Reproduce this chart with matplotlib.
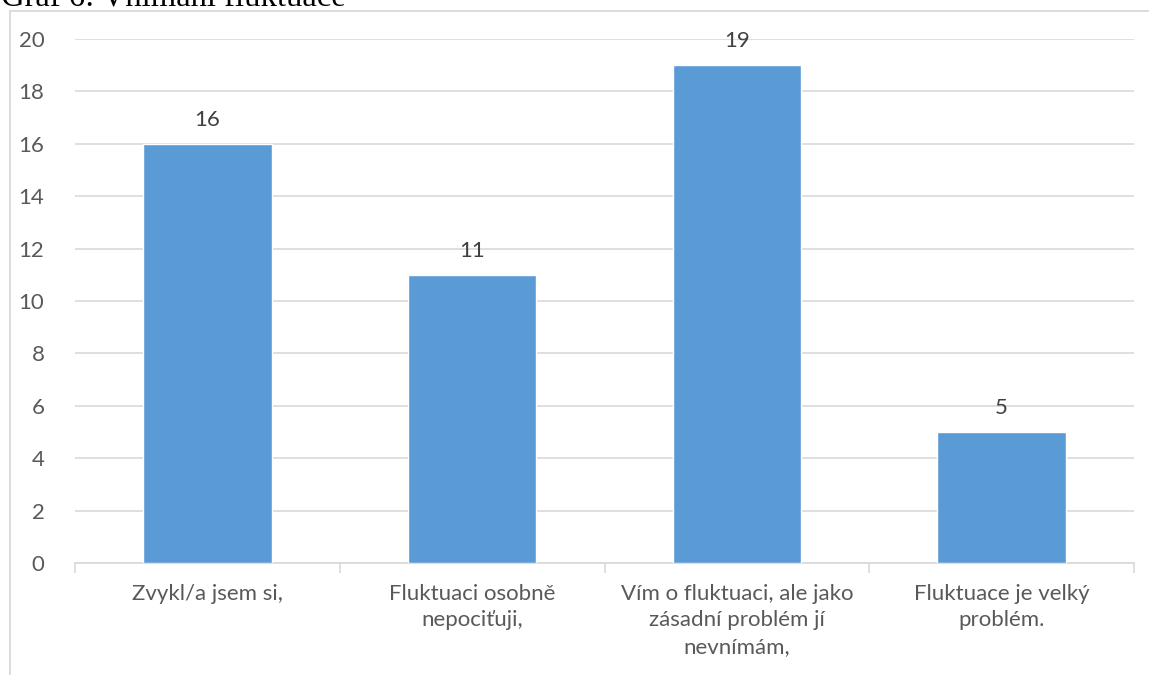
import matplotlib.pyplot as plt
from matplotlib.lines import Line2D
import numpy as np

categories = ["Zvykl/a jsem si,",
              "Fluktuaci osobně\nnepociťuji,",
              "Vím o fluktuaci, ale jako\nzásadní problém jí\nnevnímám,",
              "Fluktuace je velký\nproblém."]
values = [16, 11, 19, 5]
yticks = [0, 2, 4, 6, 8, 10, 12, 14, 16, 18, 20]

W, H = 1149, 675
fig = plt.figure(figsize=(W / 100, H / 100), dpi=100)
plt.rcParams['font.family'] = ['Lato', 'DejaVu Sans']

grid_c = "#D9D9D9"
text_c = "#595959"
fs = 16

# chart frame (top and left edge only, rest is outside the page)
fig.add_artist(Line2D([10 / W, 1.0], [1 - 11 / H, 1 - 11 / H], color=grid_c, lw=1.3))
fig.add_artist(Line2D([10 / W, 10 / W], [0, 1 - 11 / H], color=grid_c, lw=1.3))

# title, partly cut by the top of the page
fig.text(1 / W, 1 - 5 / H, "Graf 6: Vnímání fluktuace", family="Liberation Serif",
         fontsize=23.5, color="black", va="baseline", ha="left")

ax = fig.add_axes([75 / W, 1 - 563 / H, (1134 - 75) / W, (563 - 39) / H])
x = np.arange(len(values))
bars = ax.bar(x, values, width=0.485, color="#5B9BD5", edgecolor="white", linewidth=1, zorder=3)
for b, v in zip(bars, values):
    ax.annotate(str(v), (b.get_x() + b.get_width() / 2, v), xytext=(0, 10),
                textcoords="offset points", ha="center", va="bottom",
                fontsize=fs, color="#404040")

ax.set_xlim(-0.5, len(values) - 0.5)
ax.set_ylim(0, 20)
ax.set_yticks(yticks)
ax.set_yticklabels([str(t) for t in yticks])
ax.yaxis.grid(True, color=grid_c, lw=1.2)
ax.set_axisbelow(True)
ax.tick_params(axis="y", length=0, pad=22, labelsize=fs, labelcolor=text_c)

ax.set_xticks(x)
ax.set_xticklabels(categories, linespacing=1.4)
ax.tick_params(axis="x", length=0, pad=15, labelsize=fs, labelcolor=text_c)
# separators between categories
ax.set_xticks(np.arange(len(values) + 1) - 0.5, minor=True)
ax.tick_params(axis="x", which="minor", length=7, color=grid_c, width=1.2)

for s in ["top", "right", "left"]:
    ax.spines[s].set_visible(False)
ax.spines["bottom"].set_color(grid_c)
ax.spines["bottom"].set_linewidth(1.2)

fig.savefig("out.png", dpi=100, facecolor="white")
